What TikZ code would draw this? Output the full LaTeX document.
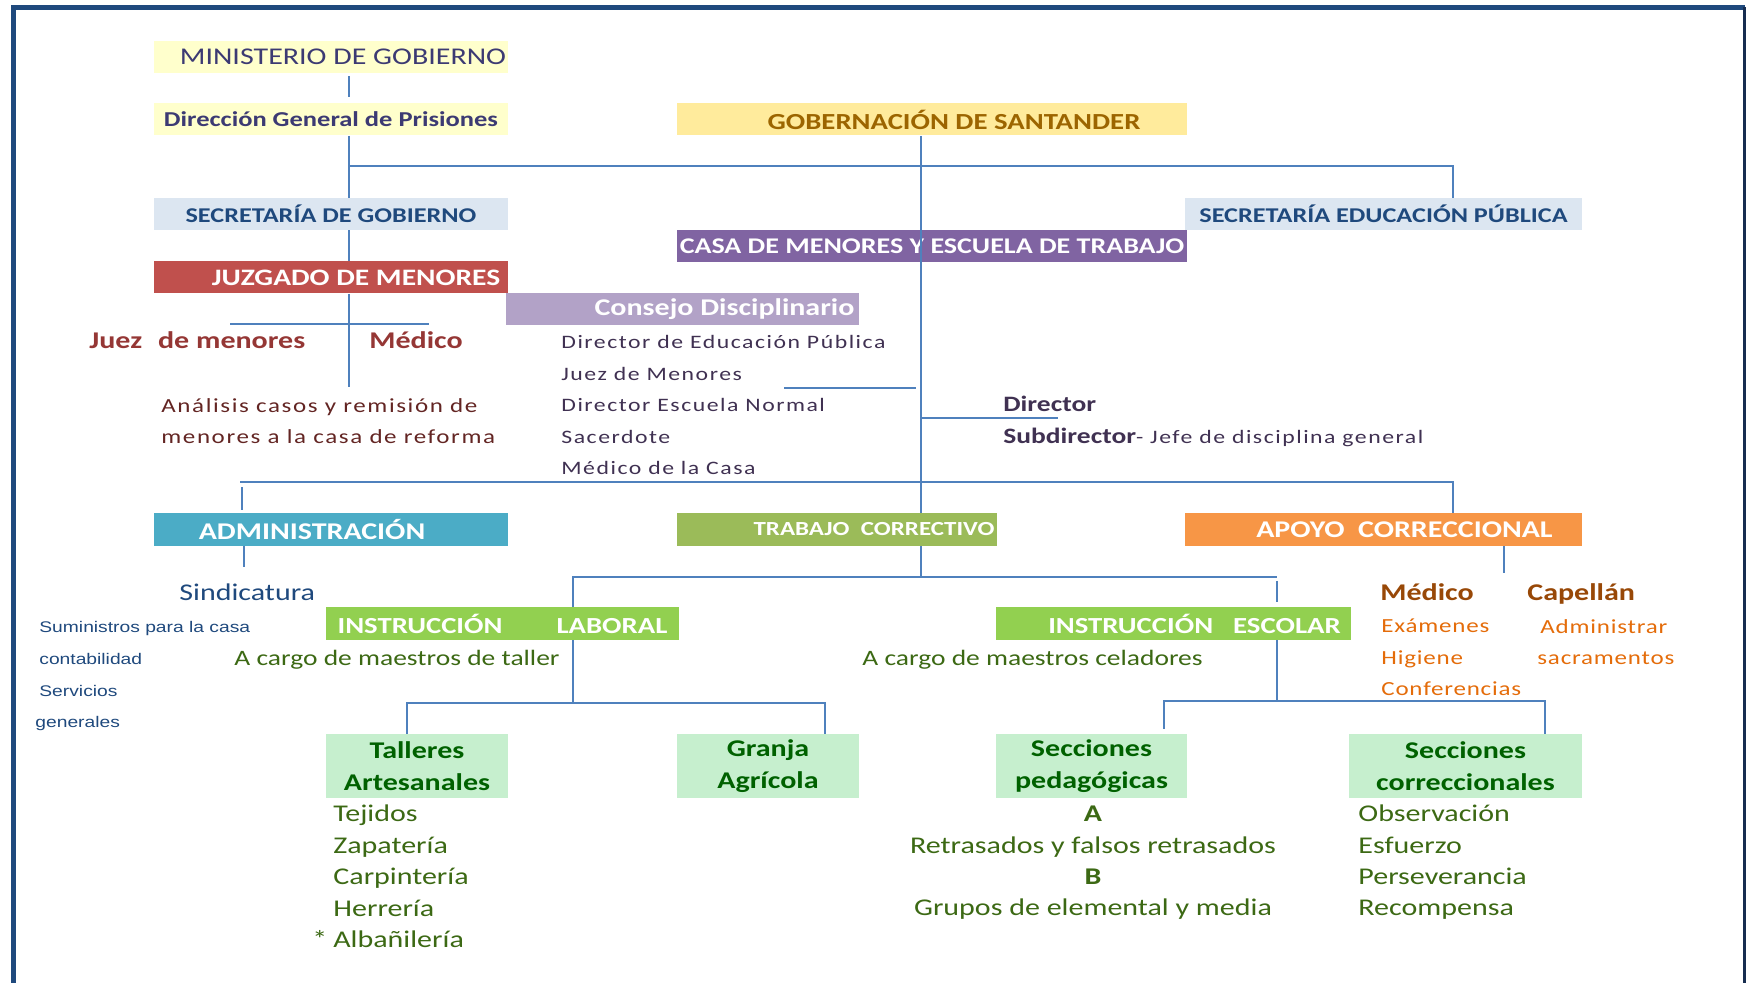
\documentclass[tikz,border=0pt]{standalone}
\usepackage{fontspec}
\setmainfont{Carlito}[FakeStretch=1.25]
\newfontfamily\arialf{Liberation Sans}[FakeStretch=1.25]
\newfontfamily\spacedf{Carlito}[FakeStretch=1.25, LetterSpace=8]
\newfontfamily\orangef{Carlito}[FakeStretch=1.25, LetterSpace=4]
\definecolor{linkblue}{RGB}{79,129,189}
\definecolor{framenavy}{RGB}{31,73,125}
\definecolor{framedark}{RGB}{23,45,80}
\definecolor{minyellow}{RGB}{255,255,204}
\definecolor{mintext}{RGB}{60,58,115}
\definecolor{gobfill}{RGB}{255,235,156}
\definecolor{gobtext}{RGB}{156,101,0}
\definecolor{secfill}{RGB}{220,230,241}
\definecolor{sectext}{RGB}{31,73,125}
\definecolor{casafill}{RGB}{128,100,162}
\definecolor{juzfill}{RGB}{192,80,77}
\definecolor{consfill}{RGB}{178,162,199}
\definecolor{admfill}{RGB}{75,172,198}
\definecolor{trabfill}{RGB}{155,187,89}
\definecolor{apofill}{RGB}{247,150,70}
\definecolor{instfill}{RGB}{146,208,80}
\definecolor{unitfill}{RGB}{198,239,206}
\definecolor{unittext}{RGB}{0,97,0}
\definecolor{juezred}{RGB}{149,55,53}
\definecolor{analred}{RGB}{99,37,35}
\definecolor{listpurple}{RGB}{64,49,82}
\definecolor{navytext}{RGB}{31,73,125}
\definecolor{greentext}{RGB}{60,105,20}
\definecolor{brownhead}{RGB}{152,72,7}
\definecolor{orangetext}{RGB}{228,108,10}
\tikzstyle{link}=[draw=linkblue, line width=1.25pt]
\tikzstyle{hdr}=[inner sep=0pt, minimum height=16pt, text=white, font=\bfseries\fontsize{11.5}{13}\selectfont]
\tikzstyle{wide}=[hdr, minimum width=177pt]
\tikzstyle{unit}=[inner sep=0pt, minimum width=91pt, minimum height=32pt, fill=unitfill, text=unittext, align=center, font=\bfseries\fontsize{12}{16}\selectfont]
\tikzstyle{item}=[inner sep=0pt, anchor=base west, align=left]

\begin{document}
\begin{tikzpicture}[x=0.5pt, y=-0.5pt]
        \useasboundingbox (0,0) rectangle (1753,983);
        \draw[line width=2.5pt, framenavy] (13.5,983) -- (13.5,7.5) -- (1744.5,7.5);
        \draw[line width=1.5pt, framedark] (1744.5,7.5) -- (1744.5,983);
        \coordinate (lsp) at (349,0);
        \coordinate (msp) at (921,0);
        \node[wide, fill=minyellow, text=mintext, font=\fontsize{12}{14}\selectfont] (min) at (331,57) {\hspace*{12pt}MINISTERIO DE GOBIERNO};
        \node[wide, fill=minyellow, text=mintext, font=\bfseries\fontsize{10.6}{13}\selectfont] (dgp) at (331,119.5) {Dirección General de Prisiones};
        \node[hdr, minimum width=255pt, fill=gobfill, text=gobtext] (gob) at (932,119.5) {\hspace*{22pt}GOBERNACIÓN DE SANTANDER};
        \node[wide, fill=secfill, text=sectext, font=\bfseries\fontsize{10.5}{12}\selectfont] (secg) at (331,214) {SECRETARÍA DE GOBIERNO};
        \node[hdr, minimum width=198.5pt, fill=secfill, text=sectext, font=\bfseries\fontsize{10.5}{12}\selectfont] (sece) at (1383.5,214) {SECRETARÍA EDUCACIÓN PÚBLICA};
        \node[hdr, minimum width=255pt, fill=casafill, font=\bfseries\fontsize{11.2}{13}\selectfont] (casa) at (932,246) {CASA DE MENORES Y ESCUELA DE TRABAJO};
        \node[wide, fill=juzfill, font=\bfseries\fontsize{11.8}{13}\selectfont] (juz) at (331,277.5) {\hspace*{25pt}JUZGADO DE MENORES};
        \node[hdr, minimum width=176.5pt, fill=consfill, font=\bfseries\fontsize{12}{13}\selectfont] (cons) at (682.5,309) {\hspace*{42pt}Consejo Disciplinario};
        \node[wide, minimum height=16.5pt, fill=admfill, font=\bfseries\fontsize{12}{13}\selectfont] (adm) at (331,529.5) {ADMINISTRACIÓN\hspace*{19pt}};
        \node[hdr, minimum width=160pt, minimum height=16.5pt, fill=trabfill, font=\bfseries\fontsize{10}{12}\selectfont] (trab) at (837,529.5) {\hspace*{37pt}TRABAJO\ \ CORRECTIVO};
        \node[hdr, minimum width=198.5pt, minimum height=16.5pt, fill=apofill, font=\bfseries\fontsize{12}{13}\selectfont] (apo) at (1383.5,529.5) {\hspace*{21pt}APOYO\ \ CORRECCIONAL};
        \node[hdr, minimum width=176.5pt, minimum height=16.5pt, fill=instfill] (ilab) at (502.5,623.5) {INSTRUCCIÓN\hspace{27pt}LABORAL};
        \node[hdr, minimum width=177.5pt, minimum height=16.5pt, fill=instfill] (iesc) at (1173.5,623.5) {\hspace*{21pt}INSTRUCCIÓN\hspace{10pt}ESCOLAR};
        \node[unit] (tall) at (417,766) {Talleres\\Artesanales};
        \node[unit] (gran) at (768,766) {Granja\\Agrícola};
        \node[unit, minimum width=95.5pt] (secp) at (1091.5,766) {Secciones\\pedagógicas};
        \node[unit, minimum width=116.5pt] (secc) at (1465.5,766) {Secciones\\correccionales};
        \node[item, text=juezred, font=\bfseries\fontsize{12}{14}\selectfont] (juez) at (89,349) {Juez\hspace{8pt}de menores};
        \node[item, text=juezred, font=\bfseries\fontsize{12}{14}\selectfont] (medj) at (369,349) {Médico};
        \node[item, text=analred, font=\spacedf\fontsize{10}{15.5}\selectfont] (anal) at (161,444) {Análisis casos y remisión de\\menores a la casa de reforma};
        \node[item, text=listpurple, font=\spacedf\fontsize{9.5}{15.75}\selectfont] (clist) at (561,475) {Director de Educación Pública\\Juez de Menores\\Director Escuela Normal\\Sacerdote\\Médico de la Casa};
        \node[item, text=listpurple, font=\bfseries\fontsize{11}{16}\selectfont] (dirc) at (1003,444) {Director\\Subdirector{\mdseries\spacedf\fontsize{9.5}{16}\selectfont- Jefe de disciplina general}};
        \node[item, text=navytext, font=\fontsize{12}{14}\selectfont] (sind) at (179,601) {Sindicatura};
        \node[item, text=navytext, font=\arialf\fontsize{7.7}{15.85}\selectfont] (slist) at (39,728) {Suministros para la casa\\contabilidad\\Servicios\\\hspace*{-2pt}generales};
        \node[item, text=greentext, font=\fontsize{11}{14}\selectfont] (cargol) at (234,666) {A cargo de maestros de taller};
        \node[item, text=greentext, font=\fontsize{11}{14}\selectfont] (cargoe) at (862,666) {A cargo de maestros celadores};
        \node[item, text=brownhead, font=\bfseries\fontsize{12}{14}\selectfont] (meda) at (1380,601) {Médico};
        \node[item, text=brownhead, font=\bfseries\fontsize{12}{14}\selectfont] (capa) at (1527,601) {Capellán};
        \node[item, text=orangetext, font=\orangef\fontsize{10}{15.75}\selectfont] (oexa) at (1381,696) {Exámenes\\Higiene\\Conferencias};
        \node[item, text=orangetext, font=\orangef\fontsize{10}{15.75}\selectfont] (oadm) at (1540,665) {Administrar\\\hspace*{-1.5pt}sacramentos};
        \node[item, text=greentext, font=\fontsize{12}{15.75}\selectfont] (tlist) at (333,948) {Tejidos\\Zapatería\\Carpintería\\Herrería\\\llap{*\hspace{3pt}}Albañilería};
        \node[inner sep=0pt, anchor=base, align=center, text=greentext, font=\fontsize{12}{15.75}\selectfont] (plist) at (1093,916) {\textbf{A}\\Retrasados y falsos retrasados\\\textbf{B}\\Grupos de elemental y media};
        \node[item, text=greentext, font=\fontsize{12}{15.75}\selectfont] (clst) at (1358,916) {Observación\\Esfuerzo\\Perseverancia\\Recompensa};
        \coordinate (jse) at (1453,166);
        \coordinate (jzb) at (349,387);
        \coordinate (crl) at (230,324);
        \coordinate (crr) at (429,324);
        \coordinate (cnl) at (784,388);
        \coordinate (dre) at (1058,418);
        \coordinate (jal) at (240,482);
        \coordinate (jar) at (1453,482);
        \coordinate (jav) at (242,487);
        \coordinate (sdt) at (244,567);
        \coordinate (jtl) at (573,577);
        \coordinate (jtr) at (1277,577);
        \coordinate (apb) at (1504,573);
        \coordinate (jll) at (407,703);
        \coordinate (jlr) at (825,703);
        \coordinate (jel) at (1164,701);
        \coordinate (jer) at (1545,701);
        \draw[link, shorten <=1.5pt, shorten >=3pt] (min.south -| lsp) -- (dgp.north -| lsp);
        \draw[link] (dgp.south -| lsp) -- (secg.north -| lsp);
        \draw[link] (lsp |- jse) -- (jse) -- (sece.north -| jse);
        \draw[link] (gob.south -| msp) -- (trab.north -| msp);
        \draw[link] (secg.south -| lsp) -- (juz.north -| lsp);
        \draw[link] (juz.south -| lsp) -- (jzb);
        \draw[link] (crl) -- (crr);
        \draw[link] (cnl) -- ([xshift=-2.5pt]cnl -| msp);
        \draw[link] (msp |- dre) -- (dre);
        \draw[link] (jal) -- (jar) -- (apo.north -| jar);
        \draw[link, shorten >=1.5pt] (jav) -- (adm.north -| jav);
        \draw[link] (adm.south -| sdt) -- (sdt);
        \draw[link] (trab.south -| msp) -- (msp |- jtl);
        \draw[link] (ilab.north -| jtl) -- (jtl) -- (jtr);
        \draw[link, shorten <=2pt, shorten >=2.5pt] (jtr) -- (iesc.north -| jtr);
        \draw[link] (apo.south -| apb) -- (apb);
        \draw[link] (ilab.south -| jtl) -- (jtl |- jll);
        \draw[link] (tall.north -| jll) -- (jll) -- (jlr) -- (gran.north -| jlr);
        \draw[link] (iesc.south -| jtr) -- (jtr |- jel);
        \draw[link, shorten <=2.5pt] (secp.north -| jel) -- (jel) -- (jer) -- (secc.north -| jer);
\end{tikzpicture}
\end{document}
